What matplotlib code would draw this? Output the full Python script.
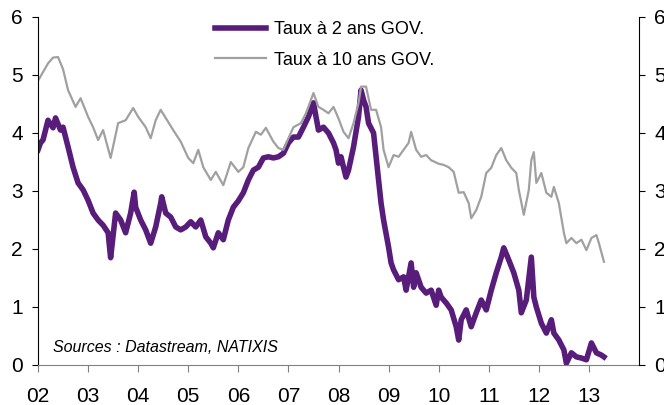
import matplotlib
matplotlib.use("Agg")
import matplotlib.pyplot as plt

plt.rcParams['font.family'] = ['Liberation Sans', 'DejaVu Sans']

# Taux à 2 ans (date en années depuis 2000, valeur en %)
x_2ans = [2.0, 2.05, 2.1, 2.2, 2.3, 2.35, 2.45, 2.5, 2.6, 2.7, 2.8, 2.9,
          3.0, 3.1, 3.2, 3.3, 3.4, 3.45, 3.55, 3.65, 3.75, 3.85, 3.92, 3.95,
          4.05, 4.15, 4.25, 4.35, 4.45, 4.47, 4.55, 4.65, 4.75, 4.85, 4.95,
          5.05, 5.15, 5.25, 5.35, 5.45, 5.5, 5.6, 5.7, 5.8, 5.9, 6.0,
          6.1, 6.2, 6.3, 6.4, 6.5, 6.6, 6.7, 6.8, 6.9, 7.0, 7.1, 7.2, 7.3,
          7.4, 7.5, 7.6, 7.7, 7.8, 7.9, 7.95, 8.0, 8.05, 8.1, 8.15, 8.2,
          8.3, 8.4, 8.45, 8.5, 8.55, 8.6, 8.7, 8.75, 8.8, 8.85, 8.9, 9.0,
          9.05, 9.1, 9.2, 9.3, 9.35, 9.45, 9.5, 9.55, 9.65, 9.75, 9.85,
          9.95, 10.0, 10.05, 10.15, 10.25, 10.35, 10.4, 10.45, 10.55, 10.65,
          10.75, 10.85, 10.95, 11.05, 11.15, 11.25, 11.3, 11.4, 11.5, 11.6,
          11.65, 11.75, 11.85, 11.9, 11.95, 12.05, 12.15, 12.25, 12.3, 12.4,
          12.5, 12.55, 12.65, 12.75, 12.85, 12.95, 13.05, 13.15, 13.25, 13.3]
taux_2ans = [3.71, 3.83, 3.88, 4.22, 4.09, 4.26, 4.05, 4.1, 3.76, 3.41, 3.14, 3.02,
             2.84, 2.62, 2.5, 2.41, 2.28, 1.85, 2.62, 2.5, 2.28, 2.62, 2.98, 2.72,
             2.5, 2.33, 2.1, 2.38, 2.79, 2.9, 2.62, 2.55, 2.38, 2.33, 2.38,
             2.47, 2.38, 2.5, 2.21, 2.1, 2.02, 2.28, 2.16, 2.5, 2.72, 2.83,
             2.97, 3.19, 3.36, 3.41, 3.57, 3.59, 3.57, 3.59, 3.65, 3.83, 3.93, 3.93, 4.1,
             4.28, 4.52, 4.05, 4.1, 4.0, 3.83, 3.71, 3.48, 3.59, 3.41, 3.24, 3.36,
             3.76, 4.28, 4.74, 4.57, 4.45, 4.17, 4.0, 3.59, 3.19, 2.79, 2.5, 2.03,
             1.76, 1.64, 1.47, 1.52, 1.29, 1.76, 1.34, 1.59, 1.34, 1.24, 1.29,
             1.03, 1.29, 1.17, 1.07, 0.95, 0.66, 0.43, 0.78, 0.95, 0.66,
             0.9, 1.12, 0.95, 1.29, 1.59, 1.86, 2.02, 1.81, 1.59, 1.29,
             0.9, 1.12, 1.86, 1.17, 1.0, 0.72, 0.55, 0.78, 0.55, 0.43,
             0.26, 0.03, 0.21, 0.14, 0.12, 0.09, 0.38, 0.21, 0.17, 0.14]

# Taux à 10 ans
x_10ans = [2.0, 2.1, 2.2, 2.3, 2.4, 2.5, 2.6, 2.75, 2.85, 3.0, 3.1, 3.2, 3.3,
           3.45, 3.6, 3.75, 3.9, 4.0, 4.15, 4.25, 4.35, 4.45, 4.55, 4.7, 4.85,
           5.0, 5.1, 5.2, 5.3, 5.45, 5.55, 5.7, 5.85, 6.0, 6.1, 6.2, 6.35,
           6.45, 6.55, 6.7, 6.8, 6.9, 7.0, 7.1, 7.25, 7.35, 7.45, 7.5, 7.6,
           7.7, 7.8, 7.9, 8.0, 8.1, 8.2, 8.3, 8.4, 8.45, 8.55, 8.65, 8.75,
           8.85, 8.9, 9.0, 9.1, 9.2, 9.3, 9.4, 9.45, 9.55, 9.65, 9.75, 9.85,
           10.0, 10.1, 10.2, 10.3, 10.4, 10.5, 10.6, 10.65, 10.75, 10.85,
           10.95, 11.05, 11.15, 11.25, 11.35, 11.45, 11.55, 11.6, 11.7, 11.8,
           11.85, 11.9, 11.95, 12.05, 12.15, 12.25, 12.3, 12.4, 12.5, 12.55,
           12.65, 12.75, 12.85, 12.95, 13.05, 13.15, 13.2, 13.3]
taux_10ans = [4.9, 5.05, 5.2, 5.3, 5.31, 5.1, 4.74, 4.45, 4.6, 4.28, 4.1, 3.88, 4.05,
              3.57, 4.17, 4.22, 4.43, 4.28, 4.1, 3.91, 4.22, 4.4, 4.26, 4.05, 3.85,
              3.57, 3.48, 3.71, 3.41, 3.19, 3.33, 3.1, 3.5, 3.33, 3.41, 3.74, 4.02,
              3.97, 4.09, 3.85, 3.74, 3.71, 3.91, 4.1, 4.17, 4.34, 4.57, 4.69, 4.45,
              4.4, 4.34, 4.45, 4.25, 4.02, 3.91, 4.17, 4.52, 4.8, 4.8, 4.4, 4.4,
              4.1, 3.71, 3.41, 3.62, 3.59, 3.71, 3.83, 4.02, 3.71, 3.59, 3.62, 3.53,
              3.47, 3.45, 3.41, 3.33, 2.97, 2.98, 2.79, 2.53, 2.67, 2.9,
              3.31, 3.4, 3.62, 3.74, 3.53, 3.4, 3.31, 3.02, 2.59, 3.02,
              3.53, 3.67, 3.14, 3.31, 2.97, 2.9, 3.07, 2.79, 2.28, 2.1,
              2.19, 2.1, 2.16, 1.98, 2.19, 2.24, 2.1, 1.78]

annees = list(range(2, 14))
etiquettes = ['%02d' % a for a in annees]
graduations_y = [0, 1, 2, 3, 4, 5, 6]

fig = plt.figure(figsize=(6.64, 4.05), dpi=100)
ax = fig.add_axes([38 / 664, 1 - 365 / 405, 601 / 664, 348 / 405])

ax.plot(x_2ans, taux_2ans, color='#581c7a', linewidth=4.0, label='Taux à 2 ans GOV.',
        solid_joinstyle='round')
ax.plot(x_10ans, taux_10ans, color='#a0a0a0', linewidth=1.6, label='Taux à 10 ans GOV.')

ax.set_xlim(2, 14)
ax.set_ylim(0, 6)
ax.set_xticks(annees)
ax.set_xticklabels(etiquettes)
ax.set_yticks(graduations_y)

ax.spines['top'].set_visible(False)
ax.spines['right'].set_visible(False)
ax.spines['bottom'].set_color('#808080')
ax.spines['left'].set_color('black')
ax.tick_params(axis='x', colors='#808080', labelcolor='black', length=5,
               labelsize=15, pad=11, direction='out')
ax.tick_params(axis='y', length=4, labelsize=15, pad=7, direction='out')

# axe de droite
ax2 = ax.twinx()
ax2.set_ylim(0, 6)
ax2.set_yticks(graduations_y)
ax2.spines['top'].set_visible(False)
ax2.spines['left'].set_visible(False)
ax2.spines['bottom'].set_visible(False)
ax2.tick_params(axis='y', length=4, labelsize=15, pad=7, direction='out')

leg = ax.legend(loc='upper left', bbox_to_anchor=(215 / 664, 1 - 21 / 405),
                bbox_transform=fig.transFigure, frameon=False, fontsize=13,
                handlelength=2.8, handletextpad=0.45, labelspacing=0.75,
                borderpad=0, borderaxespad=0)

ax.text(0.025, 0.037, 'Sources : Datastream, NATIXIS', transform=ax.transAxes,
        fontsize=11.5, style='italic', va='baseline')

fig.savefig('out.png', dpi=100)
